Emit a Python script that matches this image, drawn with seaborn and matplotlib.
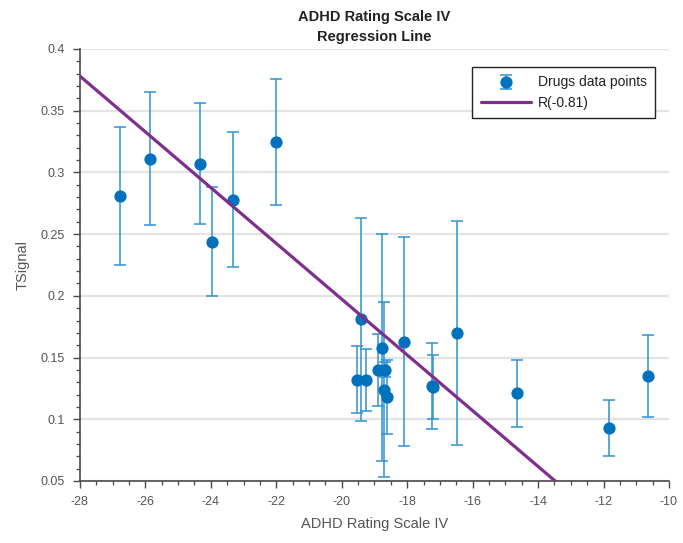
import numpy as np
import pandas as pd
import matplotlib
matplotlib.use("Agg")
import matplotlib.pyplot as plt
from matplotlib.ticker import MultipleLocator
import seaborn as sns

# ADHD rating scale change per drug, with mean T-signal and its error
adhd_score = [-26.78, -25.86, -24.33, -23.97, -23.32, -22.01,
              -19.42, -19.52, -19.27, -18.88, -18.78, -18.68, -18.71,
              -18.61, -18.10, -17.25, -17.22, -16.49, -14.65, -11.84, -10.65]
tsignal = [0.281, 0.311, 0.307, 0.244, 0.278, 0.325,
           0.181, 0.132, 0.132, 0.140, 0.158, 0.140, 0.124,
           0.118, 0.163, 0.127, 0.126, 0.170, 0.121, 0.093, 0.135]
tsignal_err = [0.056, 0.054, 0.049, 0.044, 0.055, 0.051,
               0.082, 0.027, 0.025, 0.029, 0.092, 0.006, 0.071,
               0.030, 0.085, 0.035, 0.026, 0.091, 0.027, 0.023, 0.033]

# Fitted regression line y = slope * x + intercept
fit_slope = -0.02259
fit_intercept = -0.2545
fit_label = "R(-0.81)"
points_label = "Drugs data points"

x_ticks = [-28, -26, -24, -22, -20, -18, -16, -14, -12, -10]
y_ticks = [0.05, 0.1, 0.15, 0.2, 0.25, 0.3, 0.35, 0.4]
y_tick_labels = ["0.05", "0.1", "0.15", "0.2", "0.25", "0.3", "0.35", "0.4"]

sns.set_theme(style="white")
plt.rcParams["font.family"] = ["Liberation Sans", "DejaVu Sans"]

blue = "#0072BD"
bar_blue = "#2f93d2"
purple = "#7E2F8E"
axis_grey = "#4a4a4a"
text_grey = "#555555"

fig = plt.figure(figsize=(6.83, 5.43), dpi=100)
ax = fig.add_axes([0.117, 0.1142, 0.8625, 0.7956])

df = pd.DataFrame({"score": adhd_score, "tsignal": tsignal, "err": tsignal_err})

ax.errorbar(df["score"], df["tsignal"], yerr=df["err"], fmt="o",
            color=bar_blue, ecolor=bar_blue, elinewidth=1.1,
            capsize=4.5, capthick=1.1, markersize=7.8,
            markerfacecolor=blue, markeredgecolor=blue,
            label=points_label, zorder=3)

line_x = np.array([x_ticks[0], x_ticks[-1]], dtype=float)
line_df = pd.DataFrame({"x": line_x, "y": fit_slope * line_x + fit_intercept})
sns.lineplot(data=line_df, x="x", y="y", ax=ax, color=purple, linewidth=2.3,
             label=fit_label, zorder=4)

ax.set_xlim(x_ticks[0], x_ticks[-1])
ax.set_ylim(y_ticks[0], y_ticks[-1])
ax.set_xticks(x_ticks)
ax.set_xticklabels([str(t) for t in x_ticks])
ax.set_yticks(y_ticks)
ax.set_yticklabels(y_tick_labels)
ax.xaxis.set_minor_locator(MultipleLocator(0.5))
ax.yaxis.set_minor_locator(MultipleLocator(0.01))

ax.grid(True, axis="y", which="major", color="#e3e3e3", linewidth=1.6)
ax.grid(False, axis="x")
ax.set_axisbelow(True)

for side in ("top", "right"):
    ax.spines[side].set_visible(False)
for side in ("left", "bottom"):
    ax.spines[side].set_color(axis_grey)
    ax.spines[side].set_linewidth(1.2)

ax.tick_params(axis="both", which="major", direction="out", length=5,
               width=1.0, color=axis_grey, labelcolor=text_grey,
               labelsize=9, pad=6, bottom=True, left=True)
ax.tick_params(axis="both", which="minor", direction="out", length=3,
               width=0.9, color=axis_grey, bottom=True, left=True)

ax.set_xlabel("ADHD Rating Scale IV", fontsize=10.5, color=text_grey, labelpad=6)
ax.set_ylabel("TSignal", fontsize=10.5, color=text_grey, labelpad=8)
ax.set_title("ADHD Rating Scale IV\nRegression Line", fontsize=10.5,
             fontweight="bold", color="#222222", pad=6, linespacing=1.5)

handles, labels = ax.get_legend_handles_labels()
order = [labels.index(points_label), labels.index(fit_label)]
leg = ax.legend([handles[i] for i in order], [labels[i] for i in order],
                loc="upper right", bbox_to_anchor=(0.976, 0.958),
                borderaxespad=0, fontsize=10, frameon=True, fancybox=False,
                framealpha=1, edgecolor="#222222", borderpad=0.6,
                handlelength=3.6, labelspacing=0.45, handletextpad=0.5)
leg.get_frame().set_linewidth(1.0)
for t in leg.get_texts():
    t.set_color("#222222")

fig.savefig("out.png", dpi=100)
